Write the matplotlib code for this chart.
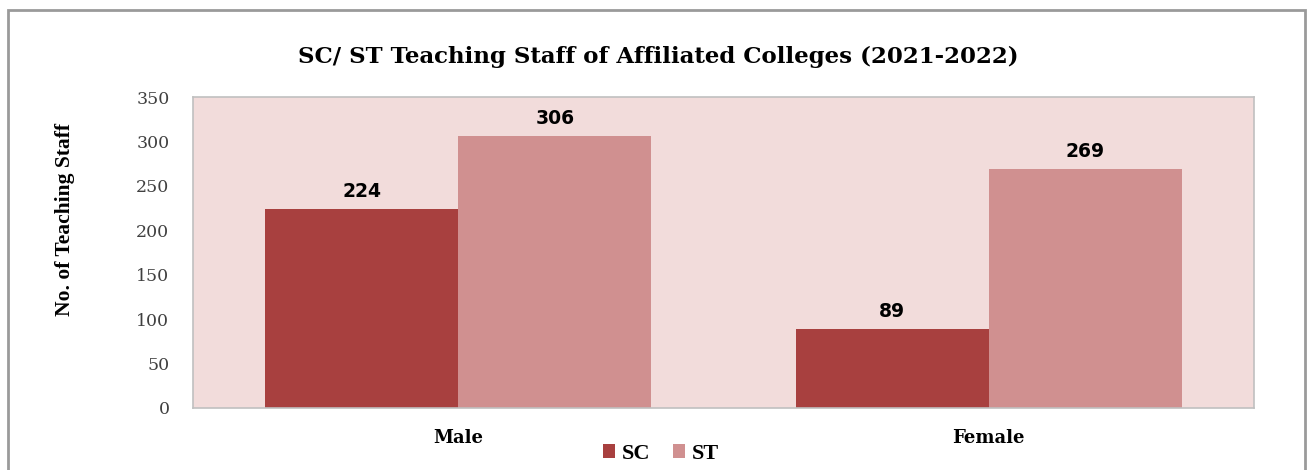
import matplotlib
matplotlib.use("Agg")
import matplotlib.pyplot as plt
from matplotlib.patches import Rectangle
import numpy as np

categories = ["Male", "Female"]
series_names = ["SC", "ST"]
sc_values = [224, 89]
st_values = [306, 269]
yticks = [0, 50, 100, 150, 200, 250, 300, 350]

W, H = 1309, 470
fig = plt.figure(figsize=(W / 100, H / 100), dpi=100)
fig.patch.set_facecolor("white")

# outer frame
fig.add_artist(Rectangle((8 / W, -0.05), (1305 - 8) / W, 1.05 - 10 / H,
                         transform=fig.transFigure, fill=False,
                         edgecolor="#9a9a9a", linewidth=2))

left, right, top, bottom = 193, 1254, 97, 408
ax = fig.add_axes([left / W, 1 - bottom / H, (right - left) / W, (bottom - top) / H])
ax.set_facecolor("#F2DCDB")

x = np.arange(len(categories))
bw = 0.364
b1 = ax.bar(x - bw / 2, sc_values, bw, color="#A8403F", label=series_names[0])
b2 = ax.bar(x + bw / 2, st_values, bw, color="#D09090", label=series_names[1])

for bars in (b1, b2):
    for r in bars:
        ax.annotate(f"{int(r.get_height())}", (r.get_x() + r.get_width() / 2, r.get_height()),
                    xytext=(0, 6), textcoords="offset points", ha="center", va="bottom",
                    fontsize=13.5, fontweight="bold", family="DejaVu Sans")

ax.set_xlim(-0.5, 1.5)
ax.set_ylim(0, 350)
ax.set_yticks(yticks)
ax.set_yticklabels([str(v) for v in yticks], family="DejaVu Serif", fontsize=12.5, color="#404040")
ax.set_xticks(x)
ax.set_xticklabels(categories, family="DejaVu Serif", fontsize=13, fontweight="bold")
ax.tick_params(axis="both", length=0)
ax.tick_params(axis="y", pad=17)
ax.tick_params(axis="x", pad=15)
for s in ax.spines.values():
    s.set_color("#c0c0c0")
    s.set_linewidth(1.2)

fig.text(658 / W, 1 - 57 / H, "SC/ ST Teaching Staff of Affiliated Colleges (2021-2022)",
         ha="center", va="center", fontsize=16.5, fontweight="bold", family="DejaVu Serif")
fig.text(65 / W, 1 - 220 / H, "No. of Teaching Staff", rotation=90, ha="center", va="center",
         fontsize=15.5, fontweight="bold", family="Liberation Serif")

leg = fig.legend(handles=[b1, b2], labels=series_names, loc="center", ncol=2,
                 bbox_to_anchor=(661 / W, 1 - 454 / H), frameon=False,
                 prop={"family": "Liberation Serif", "weight": "bold", "size": 16},
                 handlelength=0.55, handleheight=0.55, handletextpad=0.3, columnspacing=1.0)

fig.savefig("out.png", dpi=100)
